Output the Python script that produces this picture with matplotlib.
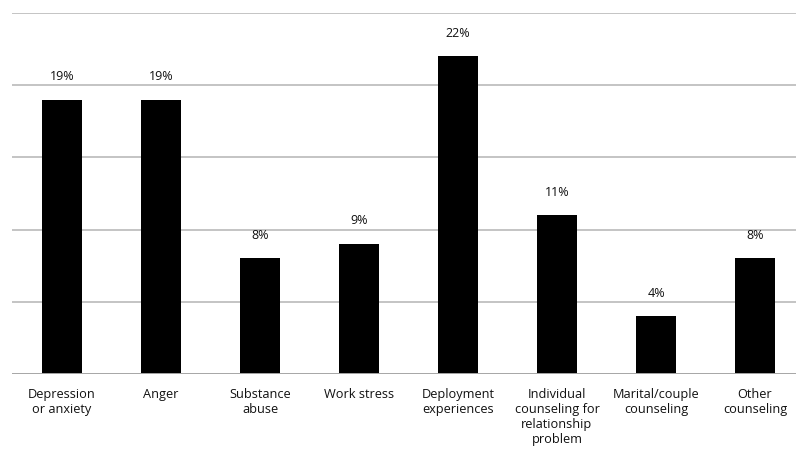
import matplotlib.pyplot as plt

categories = [
    "Depression\nor anxiety",
    "Anger",
    "Substance\nabuse",
    "Work stress",
    "Deployment\nexperiences",
    "Individual\ncounseling for\nrelationship\nproblem",
    "Marital/couple\ncounseling",
    "Other\ncounseling",
]
percent = [19, 19, 8, 9, 22, 11, 4, 8]
gridlines = [5, 10, 15, 20, 25]

plt.rcParams["font.family"] = ["Open Sans", "DejaVu Sans"]

fig = plt.figure(figsize=(7.96, 4.59), dpi=100)
ax = fig.add_axes([12.5 / 796, 85 / 459, 792 / 796, 361 / 459])

x = range(len(categories))
ax.bar(x, percent, width=0.41, color="black", zorder=3)

for xi, v in zip(x, percent):
    ax.text(xi, v + 1.6, f"{v}%", ha="center", va="center", fontsize=9, color="#111111")

ax.set_xlim(-0.5, 7.5)
ax.set_ylim(0, 25)
for g in gridlines:
    ax.axhline(g, color="#c4c4c4", linewidth=1.4, zorder=1)
ax.axhline(0, color="#a6a6a6", linewidth=1.4, zorder=4)

ax.set_xticks(list(x))
ax.set_xticklabels(categories, fontsize=9.2, color="#111111", linespacing=1.22, va="top")
ax.tick_params(axis="x", length=0, pad=10)
ax.set_yticks([])
for side in ("top", "right", "left", "bottom"):
    ax.spines[side].set_visible(False)

fig.savefig("out.png", dpi=100)
